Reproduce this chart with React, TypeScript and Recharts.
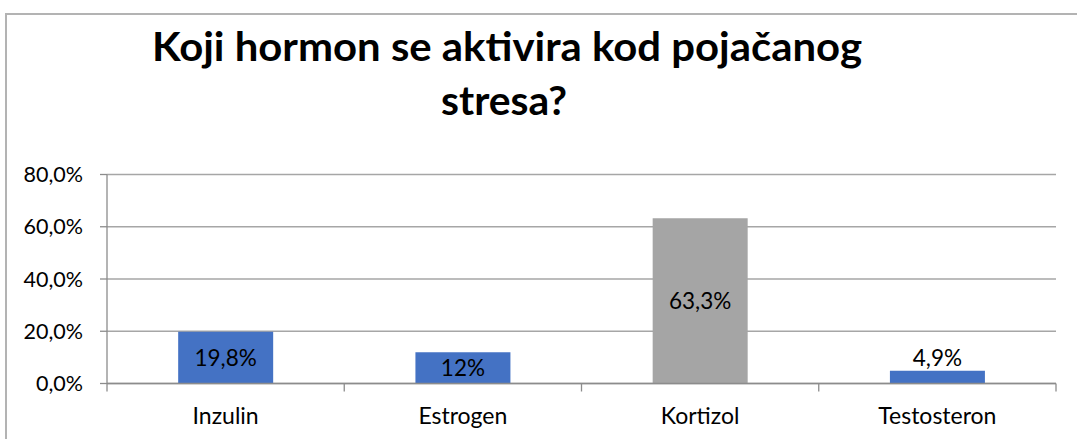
import React from 'react';
import { BarChart, Bar, XAxis, YAxis, CartesianGrid, Cell, LabelList } from 'recharts';

const categories = ['Inzulin', 'Estrogen', 'Kortizol', 'Testosteron'];
const values = [19.8, 12, 63.3, 4.9];
const valueLabels = ['19,8%', '12%', '63,3%', '4,9%'];
const barColors = ['#4472C4', '#4472C4', '#A5A5A5', '#4472C4'];
const yTicks = [0, 20, 40, 60, 80];
const yTickLabels = ['0,0%', '20,0%', '40,0%', '60,0%', '80,0%'];
const titleLines = ['Koji hormon se aktivira kod pojačanog', 'stresa?'];

const data = categories.map((c, i) => ({ name: c, value: values[i], label: valueLabels[i] }));

const FONT = 'Lato, "Open Sans", sans-serif';
const TICK_SIZE = 8;
const TICK_MARGIN = 16;

const XTick = (props: any) => {
  const { x, y, payload, index, visibleTicksCount } = props;
  const half = payload && payload.offset ? payload.offset : 0;
  const axisY = y - TICK_SIZE - TICK_MARGIN;
  const isLast = index === visibleTicksCount - 1;
  return (
    <g>
      <line x1={x - half} x2={x - half} y1={axisY} y2={axisY + TICK_SIZE} stroke="#8c8c8c" strokeWidth={1.3} />
      {isLast && (
        <line x1={x + half} x2={x + half} y1={axisY} y2={axisY + TICK_SIZE} stroke="#8c8c8c" strokeWidth={1.3} />
      )}
      <text x={x} y={axisY + 40} textAnchor="middle" fill="#000" fontSize={23} fontFamily={FONT}>
        {payload.value}
      </text>
    </g>
  );
};

const renderLabel = (props: any) => {
  const { x, y, width, height, value } = props;
  const fits = height > 22;
  const cx = x + width / 2;
  const cy = fits ? y + height / 2 + 8 : y - 5;
  return (
    <text x={cx} y={cy} textAnchor="middle" fill="#000" fontSize={22.5} fontFamily={FONT}>
      {value}
    </text>
  );
};

export default function App() {
  return (
    <div style={{ position: 'absolute', left: 0, top: 0, width: 1077, height: 439, overflow: 'hidden', background: '#fff' }}>
      <div
        style={{
          position: 'absolute',
          left: 5,
          top: 13,
          width: 1200,
          height: 600,
          border: '2px solid #b3b3b3',
          boxSizing: 'border-box',
        }}
      />
      <svg width={1077} height={439} style={{ position: 'absolute', left: 0, top: 0 }}>
        <text x={152} y={61} fontSize={40} fontWeight="bold" fontFamily={FONT} fill="#000" textLength={710} lengthAdjust="spacingAndGlyphs">
          {titleLines[0]}
        </text>
        <text x={441} y={115} fontSize={40} fontWeight="bold" fontFamily={FONT} fill="#000" textLength={126} lengthAdjust="spacingAndGlyphs">
          {titleLines[1]}
        </text>
      </svg>
      <div style={{ position: 'absolute', left: 0, top: 0 }}>
        <BarChart
          width={1077}
          height={439}
          data={data}
          margin={{ top: 174.5, right: 21, left: 0, bottom: 0 }}
          barCategoryGap="30%"
        >
          <CartesianGrid vertical={false} stroke="#a6a6a6" strokeWidth={1.3} />
          <XAxis
            dataKey="name"
            height={55.5}
            axisLine={{ stroke: '#8c8c8c', strokeWidth: 1.5 }}
            tickLine={false}
            tickSize={TICK_SIZE}
            tickMargin={TICK_MARGIN}
            tick={<XTick />}
            interval={0}
          />
          <YAxis
            width={107}
            domain={[0, 80]}
            ticks={yTicks}
            tickFormatter={(v: number) => yTickLabels[yTicks.indexOf(v)]}
            axisLine={{ stroke: '#8c8c8c', strokeWidth: 1.3 }}
            tickLine={{ stroke: '#8c8c8c', strokeWidth: 1.3 }}
            tickSize={7}
            tickMargin={17}
            tick={{ fill: '#000', fontSize: 21.5, fontFamily: FONT }}
            allowDataOverflow
          />
          <Bar dataKey="value" isAnimationActive={false}>
            {data.map((d, i) => (
              <Cell key={d.name} fill={barColors[i]} />
            ))}
            <LabelList dataKey="label" content={renderLabel} />
          </Bar>
        </BarChart>
      </div>
    </div>
  );
}
